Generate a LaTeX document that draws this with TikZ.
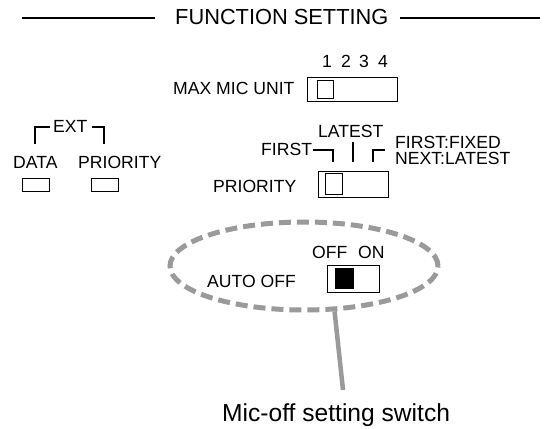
\documentclass[tikz,border=0pt]{standalone}
\usepackage{fontspec}
\setmainfont{Liberation Sans}
\usetikzlibrary{shapes.geometric}
\definecolor{dashgray}{HTML}{9A9A9A}
\begin{document}
\begin{tikzpicture}[x=1pt,y=-1pt,
  txt/.style={anchor=base west, inner sep=0pt, font=\fontsize{17.6}{20}\selectfont},
  swbox/.style={draw, line width=0.9pt, inner sep=0pt, minimum width=#1},
  knob/.style={draw, line width=0.9pt, inner sep=0pt},
  bracket/.style={line width=1.4pt},
  rule/.style={line width=1.5pt},
  halo/.style={ellipse, draw=dashgray, line width=5pt, dash pattern=on 12pt off 6pt, inner sep=0pt},
  leader/.style={draw=dashgray, line width=4.5pt}]
\useasboundingbox (0,0) rectangle (545,428);

% title
\node[txt, font=\fontsize{21.8}{24}\selectfont] (title) at (175,25) {FUNCTION SETTING};
\draw[rule] (22,18) -- (155,18);
\draw[rule] (400,18) -- (540,18);

% MAX MIC UNIT
\node[txt] (d1) at (322,67) {1};
\node[txt] (d2) at (341,67) {2};
\node[txt] (d3) at (359,67) {3};
\node[txt] (d4) at (378,67) {4};
\node[txt] (maxlbl) at (173,94) {MAX MIC UNIT};
\node[swbox=90pt, minimum height=24pt] (maxbox) at (352,89) {};
\node[knob, minimum width=16pt, minimum height=18pt] (maxknob) at (325,89) {};

% EXT
\node[txt] (ext) at (53,132) {EXT};
\draw[bracket] (35,144) -- (35,127) -- (50,127);
\draw[bracket] (92,127) -- (104,127) -- (104,144);
\node[txt] (data) at (13,168) {DATA};
\node[txt] (extpri) at (78,168) {PRIORITY};
\node[swbox=27pt, minimum height=13pt] (databox) at (35.5,184.5) {};
\node[swbox=27pt, minimum height=13pt] (extpribox) at (104.5,184.5) {};

% PRIORITY
\node[txt] (latest) at (318,137) {LATEST};
\node[txt] (first) at (261,155) {FIRST};
\node[txt] (fixed) at (395,148) {FIRST:FIXED};
\node[txt] (next) at (395,164) {NEXT:LATEST};
\draw[bracket] (313,150) -- (333,150) -- (333,162);
\draw[bracket] (353,142) -- (353,162);
\draw[bracket] (373,162) -- (373,150) -- (385,150);
\node[txt] (prilbl) at (213,192) {PRIORITY};
\node[swbox=70pt, minimum height=26pt] (pribox) at (353,184) {};
\node[knob, minimum width=17pt, minimum height=21pt] (priknob) at (333.5,183.5) {};

% AUTO OFF
\node[halo, minimum width=268pt, minimum height=88pt] (ell) at (304,266) {};
\node[txt] (off) at (312,258) {OFF};
\node[txt] (on) at (358,258) {ON};
\node[txt] (autolbl) at (207,287) {AUTO OFF};
\node[swbox=52pt, minimum height=27pt] (autobox) at (353,278.5) {};
\node[knob, fill=black, minimum width=18pt, minimum height=20pt] (autoknob) at (344,278) {};

% leader and caption
\coordinate (tip) at (343,390);
\draw[leader] (ell.-56) -- (tip);
\node[txt, font=\fontsize{24.6}{27}\selectfont] (caption) at (222,421) {Mic-off setting switch};
\end{tikzpicture}
\end{document}
